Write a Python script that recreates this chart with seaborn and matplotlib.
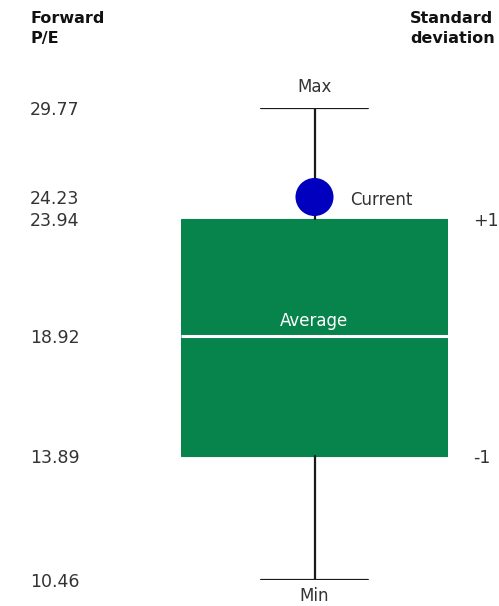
import numpy as np
import matplotlib.pyplot as plt
import seaborn as sns

# forward P/E summary values
pe_min = 10.46
pe_minus1 = 13.89
pe_average = 18.92
pe_plus1 = 23.94
pe_current = 24.23
pe_max = 29.77

tick_values = [pe_min, pe_minus1, pe_average, pe_plus1, pe_current, pe_max]
tick_labels = ['10.46', '13.89', '18.92', '23.94', '24.23', '29.77']
sd_values = [pe_plus1, pe_minus1]
sd_labels = ['+1', '-1']

# the original is schematic (not to scale): each value sits on its own pixel row
scale_rows = -np.array([580, 456, 336, 219, 197, 108], dtype=float)


def fwd(v):
    return np.interp(v, tick_values, scale_rows)


def inv(p):
    return np.interp(p, scale_rows, tick_values)


GREEN = '#07844C'
BLUE = '#0000BE'
TEXT = '#333333'
LINE = '#1a1a1a'

sns.set_style('white')
plt.rcParams['font.family'] = ['DejaVu Sans']

fig = plt.figure(figsize=(4.99, 6.06), dpi=100)
ax = fig.add_axes([181 / 499, 26 / 606, 267 / 499, 472 / 606])
ax.set_yscale('function', functions=(fwd, inv))

stats = [{'med': pe_average, 'q1': pe_minus1, 'q3': pe_plus1,
          'whislo': pe_min, 'whishi': pe_max, 'fliers': []}]
ax.bxp(stats, positions=[0], widths=0.8, capwidths=0.32,
       patch_artist=True, showfliers=False, manage_ticks=False,
       boxprops=dict(facecolor=GREEN, edgecolor=GREEN, linewidth=0.8),
       medianprops=dict(color='white', linewidth=2.2),
       whiskerprops=dict(color=LINE, linewidth=1.6),
       capprops=dict(color=LINE, linewidth=1.6))

sns.scatterplot(x=[0], y=[pe_current], s=750, color=BLUE, edgecolor='none',
                legend=False, zorder=5, clip_on=False, ax=ax)

ax.set_xlim(-0.4, 0.4)
ax.set_ylim(pe_min, pe_max)
ax.set_xticks([])
ax.set_xlabel('')
ax.set_ylabel('')

ax.set_yticks(tick_values, tick_labels)
ax.tick_params(axis='y', length=0, pad=108.7, labelsize=12.5, labelcolor=TEXT)
for lab in ax.get_yticklabels():
    lab.set_horizontalalignment('left')

ax2 = ax.twinx()
ax2.set_yscale('function', functions=(fwd, inv))
ax2.set_ylim(pe_min, pe_max)
ax2.set_yticks(sd_values, sd_labels)
ax2.tick_params(axis='y', length=0, pad=18, labelsize=12.5, labelcolor=TEXT)

for a in (ax, ax2):
    for s in a.spines.values():
        s.set_visible(False)
    a.patch.set_alpha(0)

lab_kw = dict(textcoords='offset points', fontsize=12, color=TEXT, annotation_clip=False)
ax.annotate('Max', (0, pe_max), xytext=(0, 9), ha='center', va='bottom', **lab_kw)
ax.annotate('Min', (0, pe_min), xytext=(0, -5), ha='center', va='top', **lab_kw)
ax.annotate('Current', (0, pe_current), xytext=(26, -2), ha='left', va='center', **lab_kw)
ax.annotate('Average', (0, pe_average), xytext=(0, 11), ha='center', va='center',
            textcoords='offset points', fontsize=12, color='white')

fig.text(30 / 499, 1 - 11 / 606, 'Forward\nP/E', fontweight='bold', fontsize=11.5,
         ha='left', va='top', linespacing=1.45, color='#111111')
fig.text(495 / 499, 1 - 11 / 606, 'Standard\ndeviation', fontweight='bold', fontsize=11.5,
         ha='right', va='top', multialignment='left', linespacing=1.45, color='#111111')

fig.savefig('out.png', dpi=100)
